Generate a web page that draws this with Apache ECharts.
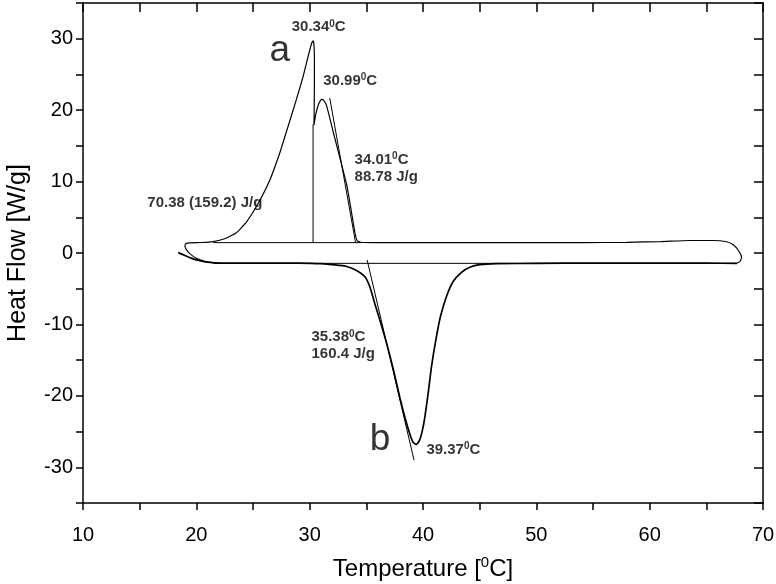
<!DOCTYPE html>
<html><head><meta charset="utf-8">
<script src="https://cdn.jsdelivr.net/npm/echarts@6/dist/echarts.min.js"></script>
<style>html,body{margin:0;padding:0;background:#fff}#c{width:776px;height:584px}</style>
</head><body><div id="c"></div>
<script>
// ---- data (temperature °C, heat flow W/g) ----
const xTickLabels = [10, 20, 30, 40, 50, 60, 70];
const yTickLabels = [-30, -20, -10, 0, 10, 20, 30];

// heating scan (endotherm b)
const heatingCurve = [
[18.4,0.05],[19.0,-0.35],[19.6,-0.75],[20.2,-1.05],[20.8,-1.25],[21.6,-1.38],[23,-1.42],[26,-1.4],[29,-1.42],
[31,-1.5],[32.2,-1.65],[33.2,-1.85],[34.1,-2.4],[34.86,-3.3],[35.3,-4.7],[35.75,-7.1],[36.2,-9.4],[36.8,-12.7],
[37.4,-16.4],[37.95,-20.2],[38.4,-23.0],[38.83,-25.3],[39.13,-26.5],[39.4,-26.8],[39.7,-26.2],[39.95,-24.8],
[40.16,-23.0],[40.45,-19.7],[40.75,-15.9],[41.13,-12.2],[41.54,-8.9],[42.07,-6.1],[42.66,-4.0],[43.4,-2.7],
[44.13,-2.0],[45.0,-1.64],[46.5,-1.5],[50,-1.45],[55,-1.42],[60,-1.42],[65,-1.42],[67.7,-1.45]
];
// cooling scan (exotherm a), starting at the right turnaround
const coolingCurve = [
[67.7,-1.45],[68.0,-1.12],[68.1,-0.52],[67.8,0.42],[67.4,1.12],[66.8,1.58],[65.5,1.75],[63.5,1.75],[61,1.6],
[58,1.5],[54,1.45],[48,1.45],[42,1.45],[37,1.45],[34.6,1.47],[34.2,1.7],[34.0,2.8],[33.7,5.6],[33.3,9.3],
[32.7,13.1],[32.1,16.8],[31.5,20.6],[31.25,21.35],[31.05,21.5],[30.8,20.9],[30.55,19.5],[30.38,17.9],
[30.4,20.5],[30.42,24],[30.42,27],[30.38,29.1],[30.3,29.7],[30.18,29.4],[29.86,27.5],[29.42,24.7],[28.83,21.5],
[28.09,17.7],[27.36,14.0],[26.48,10.2],[25.3,6.5],[24.4,4.3],[23.5,2.8],[22.5,2.0],[21.5,1.6],[20.5,1.47],
[19.4,1.42],[19.07,1.3],[19.0,0.9],[19.15,0.4],[19.4,-0.05],[20.0,-0.75],[20.9,-1.22],[21.8,-1.4]
];
const partitionLine = [[30.3,1.45],[30.3,18.0]];
const tangentA = [[31.77,21.7],[34.05,1.45]];
const tangentB = [[35.07,-0.98],[39.21,-29.0]];
const baselineA = [[21.5,1.45],[34.6,1.45]];
const baselineB = [[21.5,-1.45],[67.6,-1.45]];

// annotation anchors (data coords) and texts
const noteCenterPos = [[30.8,31.6],[20.75,7.0]];
const noteCenterText = ['30.34{s|0}C','70.38 (159.2) J/g'];
const noteLeftPos = [[31.2,24.1],[33.96,11.8],[30.16,-13.0],[40.3,-27.5]];
const noteLeftText = ['30.99{s|0}C','34.01{s|0}C\n88.78 J/g','35.38{s|0}C\n160.4 J/g','39.37{s|0}C'];
const letterPos = [[27.36,28.3],[36.2,-26.2]];
const letterText = ['a','b'];

const FONT = "'Liberation Sans', Arial, Helvetica, sans-serif";
const chart = echarts.init(document.getElementById('c'), null, {renderer:'canvas'});

const supRich = {s:{fontSize:10, fontWeight:'bold', fontFamily:FONT, color:'#000', verticalAlign:'top', lineHeight:13}};
function noteItems(pos, texts, align){
  return pos.map((p,i)=>({value:p, label:{formatter:texts[i], align:align}}));
}
function lineSeries(data, width, smooth){
  return {type:'line', data:data, symbol:'none', smooth:smooth||false, silent:true,
    lineStyle:{color:'#000', width:width}, z:3};
}

chart.setOption({
  animation:false,
  backgroundColor:'#fff',
  grid:{left:83, right:13, top:3, bottom:81, containLabel:false, outerBoundsMode:'none'},
  xAxis:[{
    type:'value', min:10, max:70, interval:5, position:'bottom',
    axisLine:{show:true, onZero:false, lineStyle:{color:'#000', width:1.5}},
    axisTick:{show:true, inside:false, length:7, lineStyle:{color:'#000', width:1.5}},
    axisLabel:{formatter:v=>xTickLabels.includes(v)?String(v):'', color:'#000', fontSize:20, fontFamily:FONT, margin:22},
    splitLine:{show:false},
    name:'Temperature [{s|0}C]', nameLocation:'middle', nameGap:52,
    nameTextStyle:{color:'#000', fontSize:24, fontFamily:FONT, lineHeight:29,
      rich:{s:{fontSize:15, fontFamily:FONT, color:'#000', verticalAlign:'top', lineHeight:18}}}
  },{
    type:'value', min:10, max:70, interval:5, position:'top',
    axisLine:{show:true, onZero:false, lineStyle:{color:'#000', width:1.5}},
    axisTick:{show:true, inside:true, length:9, lineStyle:{color:'#000', width:1.5}},
    axisLabel:{show:false}, splitLine:{show:false}
  }],
  yAxis:[{
    type:'value', min:-35, max:35, interval:5, position:'left',
    axisLine:{show:true, onZero:false, lineStyle:{color:'#000', width:1.5}},
    axisTick:{show:true, inside:false, length:7, lineStyle:{color:'#000', width:1.5}},
    axisLabel:{formatter:v=>yTickLabels.includes(v)?String(v):'', color:'#000', fontSize:20, fontFamily:FONT, margin:10},
    splitLine:{show:false},
    name:'Heat Flow [W/g]', nameLocation:'middle', nameGap:52, nameRotate:90,
    nameTextStyle:{color:'#000', fontSize:25, fontFamily:FONT}
  },{
    type:'value', min:-35, max:35, interval:5, position:'right',
    axisLine:{show:true, onZero:false, lineStyle:{color:'#000', width:1.5}},
    axisTick:{show:true, inside:true, length:9, lineStyle:{color:'#000', width:1.5}},
    axisLabel:{show:false}, splitLine:{show:false}
  }],
  series:[
    lineSeries(baselineA, 1),
    lineSeries(baselineB, 1),
    lineSeries(partitionLine, 1),
    lineSeries(tangentA, 1),
    lineSeries(tangentB, 1),
    lineSeries(heatingCurve, 1.7, 0.2),
    lineSeries(coolingCurve, 1.2, 0.15),
    {type:'scatter', symbolSize:0, silent:true, z:5,
      data:noteItems(noteCenterPos, noteCenterText, 'center'),
      label:{show:true, position:'inside', verticalAlign:'middle', color:'#000', fontSize:15, fontWeight:'bold',
        fontFamily:FONT, lineHeight:17, rich:supRich}},
    {type:'scatter', symbolSize:0, silent:true, z:5,
      data:noteItems(noteLeftPos, noteLeftText, 'left'),
      label:{show:true, position:'inside', verticalAlign:'middle', color:'#000', fontSize:15, fontWeight:'bold',
        fontFamily:FONT, lineHeight:17, rich:supRich}},
    {type:'scatter', symbolSize:0, silent:true, z:5,
      data:noteItems(letterPos, letterText, 'center'),
      label:{show:true, position:'inside', verticalAlign:'middle', color:'#000', fontSize:37,
        fontFamily:FONT}}
  ]
});
</script></body></html>
